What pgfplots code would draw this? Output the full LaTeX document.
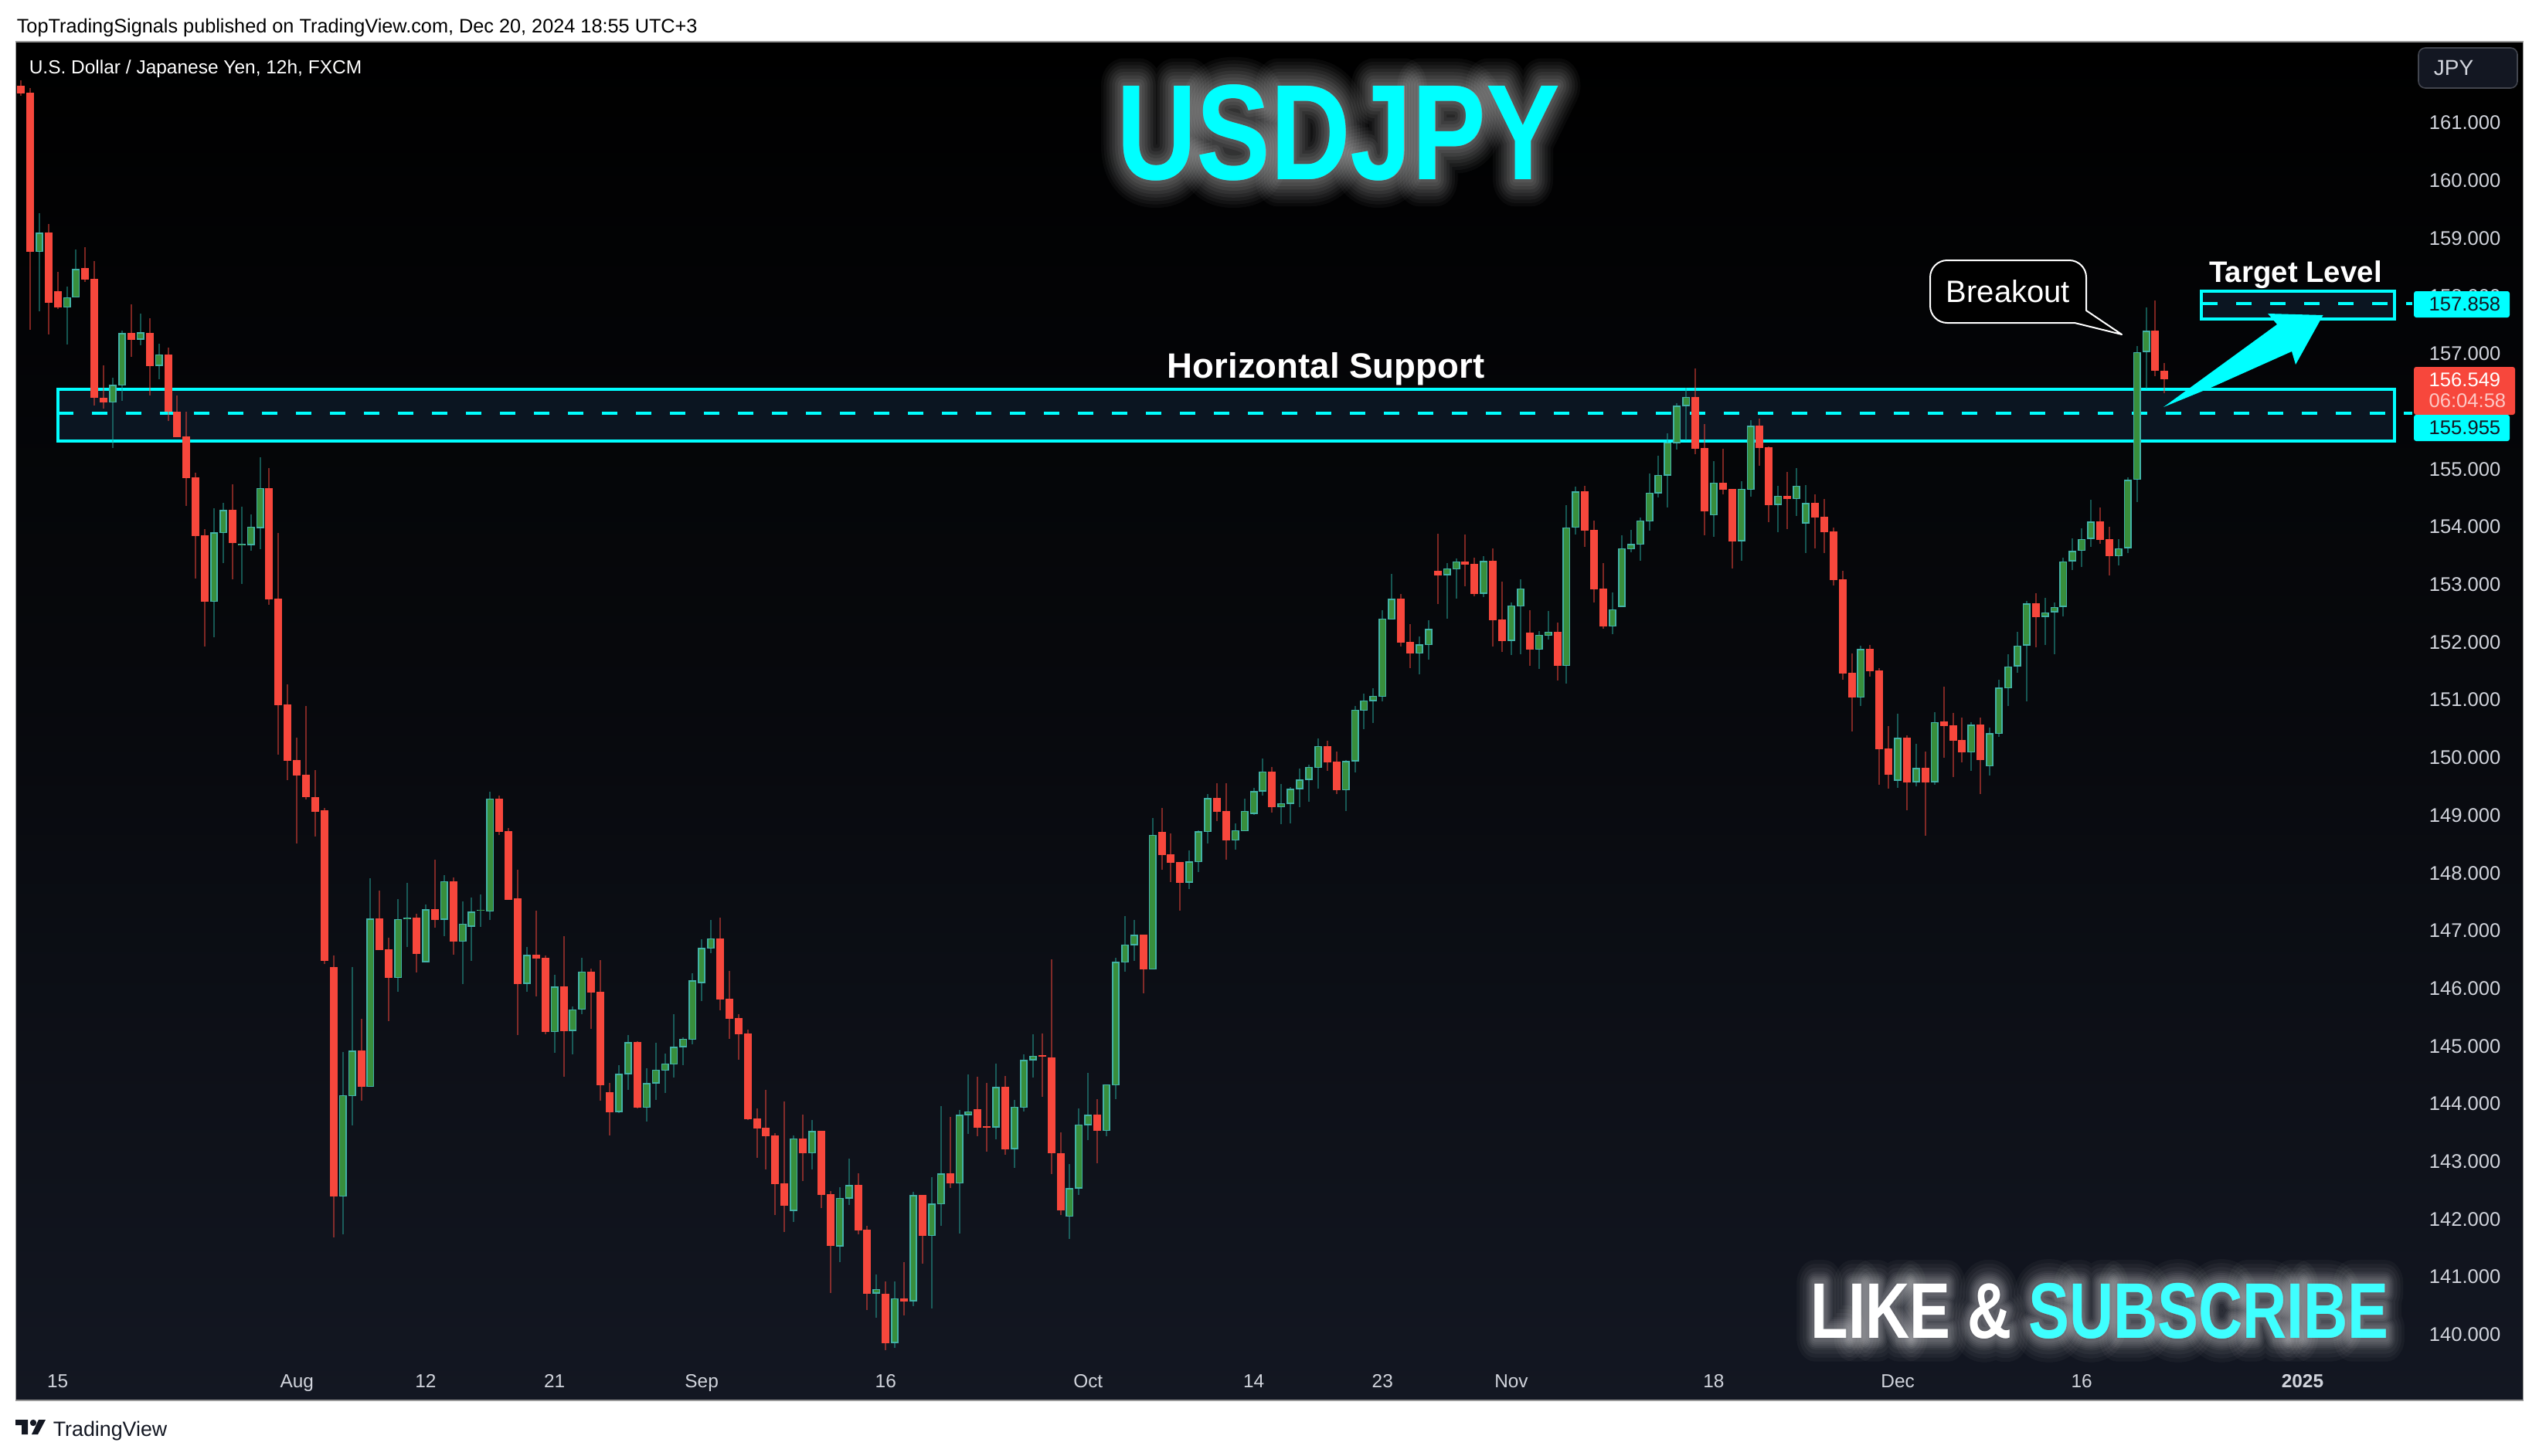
\documentclass[border=0pt]{standalone}
\usepackage{pgfplots}
\usepackage{pgfplotstable}
\usepackage{fontspec}
\pgfplotsset{compat=1.18}
\setmainfont{Liberation Sans}
\newfontfamily\tvbold{Liberation Sans Bold}
\newfontfamily\glowa[FakeBold=5]{Liberation Sans Bold}
\newfontfamily\glowb[FakeBold=10]{Liberation Sans Bold}
\newfontfamily\glowc[FakeBold=15]{Liberation Sans Bold}
\newfontfamily\glowd[FakeBold=20]{Liberation Sans Bold}
\newfontfamily\glowe[FakeBold=25]{Liberation Sans Bold}
\newfontfamily\glowf[FakeBold=30]{Liberation Sans Bold}
\newfontfamily\glowg[FakeBold=35]{Liberation Sans Bold}
\newfontfamily\glowh[FakeBold=40]{Liberation Sans Bold}
\newfontfamily\glowi[FakeBold=50]{Liberation Sans Bold}
\newfontfamily\glowj[FakeBold=60]{Liberation Sans Bold}
\definecolor{panelbot}{HTML}{131722}
\definecolor{tick}{HTML}{D1D4DC}
\definecolor{upfill}{HTML}{388E3C}
\definecolor{upedge}{HTML}{42B2A6}
\definecolor{upwick}{HTML}{26A69A}
\definecolor{down}{HTML}{F7473C}
\definecolor{zone}{HTML}{0B1521}
\definecolor{tvc}{HTML}{00FFFF}
\definecolor{subc}{HTML}{3FFFFF}
\pgfplotstableread{
x o h l c
3 158.75 159.43 157.72 159.09
6 157.79 158.15 157.15 157.97
7 157.96 158.79 157.96 158.46
11 156.14 156.57 155.36 156.45
12 156.44 157.39 156.17 157.35
14 157.23 157.68 157.14 157.36
16 156.78 157.16 156.54 156.98
22 152.69 154.31 152.08 153.89
23 153.88 154.41 153.36 154.28
25 153.67 154.34 153.00 153.70
26 153.67 154.21 153.57 153.99
27 153.97 155.20 153.60 154.66
36 142.38 144.89 141.73 144.14
37 144.12 146.36 143.62 144.91
39 144.28 147.90 144.28 147.20
42 146.17 147.54 145.93 147.19
43 147.20 147.82 146.71 147.21
45 146.44 147.44 146.44 147.36
47 147.18 147.95 146.90 147.85
49 146.80 147.50 146.07 147.11
50 147.06 147.57 146.47 147.32
51 147.34 147.62 147.06 147.35
52 147.32 149.40 147.18 149.28
56 146.07 146.71 145.93 146.57
59 145.23 146.22 144.88 146.02
61 145.25 145.68 144.85 145.63
62 145.62 146.52 145.55 146.28
66 143.85 144.66 143.83 144.51
67 144.50 145.18 144.23 145.06
69 143.92 144.60 143.68 144.35
70 144.34 145.05 144.06 144.58
71 144.56 144.86 144.18 144.69
72 144.67 145.55 144.44 144.98
73 144.97 145.14 144.66 145.12
74 145.10 146.25 145.02 146.13
75 146.08 146.84 145.77 146.69
76 146.68 147.18 146.60 146.86
85 142.13 143.44 141.94 143.39
87 143.13 143.71 142.85 143.52
90 141.52 142.55 141.25 142.36
91 142.35 143.04 142.23 142.58
94 140.70 141.03 140.28 140.78
96 139.84 140.91 139.76 140.62
98 140.57 142.46 140.48 142.41
100 141.70 142.72 140.44 142.26
101 142.25 143.95 141.87 142.78
103 142.61 143.88 141.74 143.80
104 143.79 144.50 143.47 143.86
107 143.58 144.69 143.37 144.28
109 143.20 144.06 142.88 143.94
110 143.92 144.85 143.86 144.75
111 144.74 145.19 144.44 144.82
115 142.03 142.94 141.65 142.53
116 142.52 143.91 142.41 143.63
117 143.62 144.53 143.36 143.80
119 143.52 144.33 143.43 144.33
120 144.31 146.52 144.07 146.45
121 146.44 147.25 146.28 146.75
122 146.74 147.17 146.47 146.92
124 146.32 148.94 146.32 148.65
128 147.82 148.38 147.71 148.19
129 148.18 148.73 148.01 148.71
130 148.70 149.36 148.50 149.29
133 148.55 148.85 148.39 148.73
134 148.71 149.28 148.71 149.07
135 149.01 149.46 149.00 149.41
136 149.40 149.97 149.33 149.75
138 149.13 149.53 148.84 149.20
139 149.19 149.48 148.85 149.45
140 149.44 149.80 149.13 149.61
141 149.60 149.87 149.23 149.83
142 149.81 150.32 149.45 150.19
145 149.42 149.95 149.07 149.93
146 149.92 150.88 149.73 150.82
147 150.80 151.10 150.48 150.98
148 150.97 151.19 150.59 151.06
149 151.04 152.54 150.97 152.40
150 152.38 153.17 152.38 152.74
153 151.79 152.09 151.43 151.95
154 151.94 152.37 151.69 152.22
156 153.15 153.36 152.40 153.27
157 153.25 153.44 152.74 153.39
160 152.83 153.48 152.77 153.40
163 152.01 152.68 151.77 152.63
164 152.61 153.08 151.78 152.92
166 151.86 152.18 151.52 152.12
167 152.10 152.53 152.03 152.17
169 151.58 154.37 151.27 153.98
170 153.97 154.69 153.85 154.60
174 152.26 152.85 152.13 152.56
175 152.60 153.84 152.60 153.62
176 153.60 153.94 153.55 153.69
177 153.68 154.15 153.40 154.10
178 154.08 154.91 153.92 154.58
179 154.57 155.22 154.50 154.89
180 154.88 155.61 154.33 155.45
181 155.44 156.13 155.33 156.09
182 156.08 156.40 155.49 156.24
185 154.19 155.13 153.82 154.76
188 153.74 154.78 153.40 154.65
189 154.63 155.84 154.51 155.74
192 154.37 154.70 153.89 154.53
194 154.47 155.01 154.18 154.70
195 154.05 154.71 153.53 154.40
201 151.03 151.93 150.89 151.87
205 149.59 150.75 149.47 150.33
207 149.56 150.23 149.49 149.81
209 149.56 150.78 149.52 150.61
213 150.08 150.60 149.76 150.56
215 149.84 150.51 149.68 150.41
216 150.40 151.34 150.35 151.20
217 151.19 151.78 150.88 151.57
218 151.57 152.17 151.46 151.93
219 151.93 152.70 150.97 152.66
221 152.43 152.76 151.94 152.51
222 152.51 152.68 151.78 152.60
223 152.60 153.46 152.44 153.39
224 153.39 153.79 153.24 153.57
225 153.57 153.96 153.30 153.78
226 153.78 154.46 153.64 154.08
229 153.48 153.77 153.32 153.62
230 153.62 154.85 153.53 154.80
231 154.80 157.12 154.42 157.02
232 157.02 157.79 156.38 157.39
}\greentable
\pgfplotstableread{
x o h l c
1 161.64 161.73 161.46 161.50
2 161.51 161.59 157.40 158.76
4 159.09 159.24 157.33 157.87
5 158.07 158.41 157.76 157.79
8 158.47 158.84 158.23 158.27
9 158.28 158.60 156.09 156.22
10 156.23 156.79 156.04 156.14
13 157.35 157.84 156.93 157.23
15 157.35 157.60 156.27 156.78
17 156.98 157.09 155.82 155.98
18 155.99 156.26 155.54 155.54
19 155.55 155.98 154.35 154.83
20 154.84 154.93 153.09 153.83
21 153.84 153.95 151.92 152.69
24 154.28 154.72 153.08 153.71
28 154.66 155.01 152.64 152.73
29 152.74 153.88 150.04 150.90
30 150.91 151.26 149.60 149.94
31 149.95 150.34 148.50 149.68
32 149.69 150.88 149.27 149.30
33 149.31 149.77 148.62 149.05
34 149.07 149.12 146.41 146.46
35 146.36 146.56 141.68 142.38
38 144.91 145.46 144.04 144.28
40 147.20 147.68 146.65 146.65
41 146.67 146.87 145.42 146.17
44 147.21 147.28 146.26 146.58
46 147.36 148.22 147.04 147.18
48 147.85 147.91 146.58 146.80
53 149.28 149.33 148.65 148.70
54 148.72 148.77 147.53 147.53
55 147.55 148.05 145.18 146.07
57 146.57 147.34 145.85 146.51
58 146.52 146.56 145.20 145.23
60 146.02 146.89 144.46 145.25
63 146.28 146.33 145.29 145.92
64 145.93 146.48 144.04 144.31
65 144.19 144.35 143.44 143.85
68 145.06 145.07 143.91 143.92
77 146.86 147.21 145.61 145.80
78 145.81 146.29 145.12 145.46
79 145.48 145.55 144.75 145.20
80 145.21 145.27 143.71 143.72
81 143.74 143.91 143.05 143.56
82 143.57 144.23 142.85 143.43
83 143.44 143.48 142.06 142.60
84 142.61 144.03 141.77 142.22
86 143.39 143.80 142.65 143.13
88 143.52 143.52 142.19 142.41
89 142.42 142.48 140.71 141.52
92 142.58 142.78 141.73 141.80
93 141.81 141.87 140.42 140.70
95 140.69 140.91 139.72 139.84
97 140.62 141.25 140.32 140.57
99 142.41 142.41 141.22 141.70
102 142.78 143.76 142.53 142.61
105 143.89 144.46 143.43 143.58
106 143.60 144.35 143.16 143.58
108 144.28 144.47 143.11 143.20
112 144.83 145.21 144.11 144.82
113 144.79 146.49 142.77 143.13
114 143.14 143.49 142.06 142.14
118 143.80 144.07 142.96 143.52
123 146.92 146.92 145.90 146.32
125 148.70 149.12 148.05 148.30
126 148.31 148.67 147.83 148.16
127 148.18 148.18 147.34 147.82
131 149.29 149.54 148.89 149.05
132 149.06 149.54 148.22 148.55
137 149.75 149.83 149.03 149.13
143 150.19 150.28 149.76 149.91
144 149.92 150.10 149.36 149.42
151 152.74 152.83 151.92 151.98
152 151.99 152.31 151.54 151.79
155 153.23 153.87 152.65 153.15
158 153.39 153.86 152.96 153.34
159 153.35 153.45 152.79 152.83
161 153.40 153.61 151.92 152.37
162 152.38 153.04 151.82 152.01
165 152.15 152.54 151.58 151.86
168 152.17 152.33 151.32 151.58
171 154.60 154.70 153.64 153.92
172 153.94 154.10 152.68 152.90
173 152.92 153.36 152.23 152.26
183 156.24 156.73 155.25 155.34
184 155.35 155.77 153.84 154.26
186 154.76 155.34 154.55 154.63
187 154.65 154.65 153.27 153.74
190 155.74 155.87 155.05 155.35
191 155.37 155.38 154.07 154.37
193 154.53 154.94 153.95 154.47
196 154.40 154.55 153.62 154.15
197 154.17 154.47 153.53 153.89
198 153.91 153.97 152.97 153.07
199 153.08 153.23 151.34 151.45
200 151.46 151.80 150.44 151.03
202 151.87 151.94 151.39 151.49
203 151.50 151.54 149.52 150.14
204 150.15 150.53 149.45 149.69
206 150.33 150.37 149.08 149.56
208 149.81 150.10 148.63 149.56
210 150.62 151.22 149.99 150.53
211 150.55 150.76 149.65 150.28
212 150.29 150.68 149.91 150.08
214 150.56 150.68 149.36 149.95
220 152.66 152.84 151.90 152.43
227 154.08 154.33 153.69 153.76
228 153.77 153.99 153.15 153.48
233 157.39 157.91 156.60 156.70
234 156.70 156.83 156.30 156.55
}\redtable
\pgfplotsset{
  wick/.style={draw=none,mark=none,forget plot,error bars/.cd,y dir=both,y explicit,error mark=none,
    error bar style={draw=#1,line width=0.5pt,opacity=0.5,solid}},
  body/.style 2 args={draw=none,mark=none,forget plot,error bars/.cd,y dir=both,y explicit,error mark=none,
    error bar style={draw=#1,line width=#2,solid}},
}
\begin{document}
\begin{tikzpicture}
\path[use as bounding box,fill=white] (0,0) rectangle (821.5pt,-471pt);
\begin{axis}[
  at={(5.125pt,-13.5pt)},anchor=north west,
  width=811.25pt,height=439.75pt,scale only axis,
  xmin=0.454,xmax=272.98,ymin=138.849,ymax=162.396,
  axis background/.style={top color=black,bottom color=panelbot,middle color=black!60!panelbot},
  axis line style={draw=white!60!black,line width=0.4pt},
  tick style={draw=none},major tick length=0pt,
  ytick={140,141,142,143,144,145,146,147,148,149,150,151,152,153,154,155,157,158,159,160,161},
  yticklabel pos=right,
  xtick={5,31,45,59,75,95,117,135,149,163,185,205,225,249},
  xticklabels={15,Aug,12,21,Sep,16,Oct,14,23,Nov,18,Dec,16,\textbf{2025}},
  /pgf/number format/assume math mode=true,
  /pgf/number format/fixed,/pgf/number format/fixed zerofill,/pgf/number format/precision=3,/pgf/number format/1000 sep={},
  yticklabel style={font=\fontsize{6.4}{7}\selectfont,text=tick,anchor=east,xshift=-7.1pt,yshift=-0.2pt,inner sep=0pt},
  xticklabel style={font=\fontsize{6.1}{7}\selectfont,text=tick,anchor=base,yshift=4.25pt,inner sep=0pt},
  clip mode=individual,
]
% zones
\addplot[fill=zone,draw=tvc,line width=1pt] coordinates {(5.03,156.372)(259.0,156.372)(259.0,155.475)(5.03,155.475)} --cycle;
\addplot[fill=zone,draw=tvc,line width=1pt] coordinates {(238.0,158.07)(259.0,158.07)(259.0,157.59)(238.0,157.59)} --cycle;
\addplot[tvc,line width=1pt,dash pattern=on 5pt off 6pt] coordinates {(5.03,155.955)(260.93,155.955)};
\addplot[tvc,line width=1pt,dash pattern=on 5pt off 6pt] coordinates {(238.09,157.858)(260.93,157.858)};
% wicks
\addplot[wick=upwick] table[x=x,y expr=(\thisrow{h}+\thisrow{l})/2,y error plus expr=(\thisrow{h}-\thisrow{l})/2,y error minus expr=(\thisrow{h}-\thisrow{l})/2] {\greentable};
\addplot[wick=down] table[x=x,y expr=(\thisrow{h}+\thisrow{l})/2,y error plus expr=(\thisrow{h}-\thisrow{l})/2,y error minus expr=(\thisrow{h}-\thisrow{l})/2] {\redtable};
% up bodies: edge then fill
\addplot[body={upedge}{2.5pt}] table[x=x,y expr=(\thisrow{o}+\thisrow{c})/2,y error plus expr=(\thisrow{c}-\thisrow{o})/2,y error minus expr=(\thisrow{c}-\thisrow{o})/2] {\greentable};
\addplot[body={upfill}{1.65pt}] table[x=x,y expr=(\thisrow{o}+\thisrow{c})/2,y error plus expr={max((\thisrow{c}-\thisrow{o})/2-0.02,0.002)},y error minus expr={max((\thisrow{c}-\thisrow{o})/2-0.02,0.002)}] {\greentable};
% down bodies
\addplot[body={down}{2.5pt}] table[x=x,y expr=(\thisrow{o}+\thisrow{c})/2,y error plus expr=(\thisrow{o}-\thisrow{c})/2,y error minus expr=(\thisrow{o}-\thisrow{c})/2] {\redtable};
\end{axis}
\begin{scope}[x=0.25pt,y=-0.25pt,line join=round,miter limit=1]
% header and footer
\node[anchor=base west,inner sep=0pt,text=black] at (21,42) {\fontsize{6.32}{7}\selectfont TopTradingSignals published on TradingView.com, Dec 20, 2024 18:55 UTC+3};
\node[anchor=base west,inner sep=0pt,text=white] at (37,95) {\fontsize{6.12}{7}\selectfont U.S. Dollar / Japanese Yen, 12h, FXCM};
\fill[panelbot] (20,1838)--(36,1838)--(36,1857)--(28,1857)--(28,1845)--(20,1845)--cycle;
\fill[panelbot] (43,1842) circle (4.2);
\fill[panelbot] (50,1838)--(59,1838)--(49,1857)--(41,1857)--cycle;
\node[anchor=base west,inner sep=0pt,text=panelbot] at (68,1859) {\fontsize{6.7}{8}\selectfont TradingView};
% JPY button
\draw[fill=panelbot,draw=white!20!panelbot,line width=0.4pt,rounded corners=2.2pt] (3130,62) rectangle (3258,114);
\node[anchor=base west,inner sep=0pt,text=tick] at (3149,97) {\fontsize{7}{8}\selectfont JPY};
% title glow
\foreach \f/\o in {\glowh/0.035,\glowg/0.04,\glowf/0.045,\glowe/0.05,\glowd/0.055,\glowc/0.06,\glowb/0.06,\glowa/0.06}{
  \node[anchor=base,inner sep=0pt,text=white,text opacity=\o] at (1732,232) {\scalebox{0.815}[1]{\f\fontsize{44}{50}\selectfont USDJPY}};
}
\node[anchor=base,inner sep=0pt,text=tvc] at (1732,232) {\scalebox{0.815}[1]{\tvbold\fontsize{44}{50}\selectfont USDJPY}};
% like and subscribe glow
\foreach \f/\o in {\glowj/0.035,\glowi/0.04,\glowh/0.045,\glowf/0.05,\glowe/0.055,\glowd/0.06,\glowc/0.06,\glowb/0.06}{
  \node[anchor=base west,inner sep=0pt,text=white,text opacity=\o] at (2343,1732) {\scalebox{0.776}[1]{\f\fontsize{25.5}{30}\selectfont LIKE \& SUBSCRIBE}};
}
\node[anchor=base west,inner sep=0pt] at (2343,1732) {\scalebox{0.776}[1]{\tvbold\fontsize{25.5}{30}\selectfont\textcolor{white}{LIKE \&} \textcolor{subc}{SUBSCRIBE}}};
% annotations
\node[text=white,inner sep=0pt] at (1716,478) {\tvbold\fontsize{11.4}{13}\selectfont Horizontal Support};
\node[text=white,inner sep=0pt] at (2971,356) {\tvbold\fontsize{9.6}{11}\selectfont Target Level};
\draw[white,line width=0.5pt,fill=black] (2685,418) [rounded corners=5.5pt] -- (2498,418) -- (2498,337) -- (2700,337) [sharp corners] -- (2700,402) -- (2746,433) -- cycle;
\node[text=white,inner sep=0pt] at (2599,377) {\fontsize{10}{12}\selectfont Breakout};
\fill[tvc] (2800,527)--(2947,420)--(2935,406)--(3006.5,408)--(2971,472)--(2966,455)--(2861,502)--cycle;
% price labels
\fill[tvc,rounded corners=0.75pt] (3124,377) rectangle (3248,411);
\node[anchor=east,inner sep=0pt,text=panelbot] at (3237,394) {\fontsize{6.4}{7}\selectfont 157.858};
\fill[down,rounded corners=0.75pt] (3124,475) rectangle (3255,537);
\node[anchor=east,inner sep=0pt,text=white] at (3237,492) {\fontsize{6.4}{7}\selectfont 156.549};
\node[anchor=east,inner sep=0pt,text=white!70!down] at (3244,519) {\fontsize{6.4}{7}\selectfont 06:04:58};
\fill[tvc,rounded corners=0.75pt] (3124,537) rectangle (3248,571);
\node[anchor=east,inner sep=0pt,text=panelbot] at (3237,554) {\fontsize{6.4}{7}\selectfont 155.955};
\end{scope}
\end{tikzpicture}
\end{document}
